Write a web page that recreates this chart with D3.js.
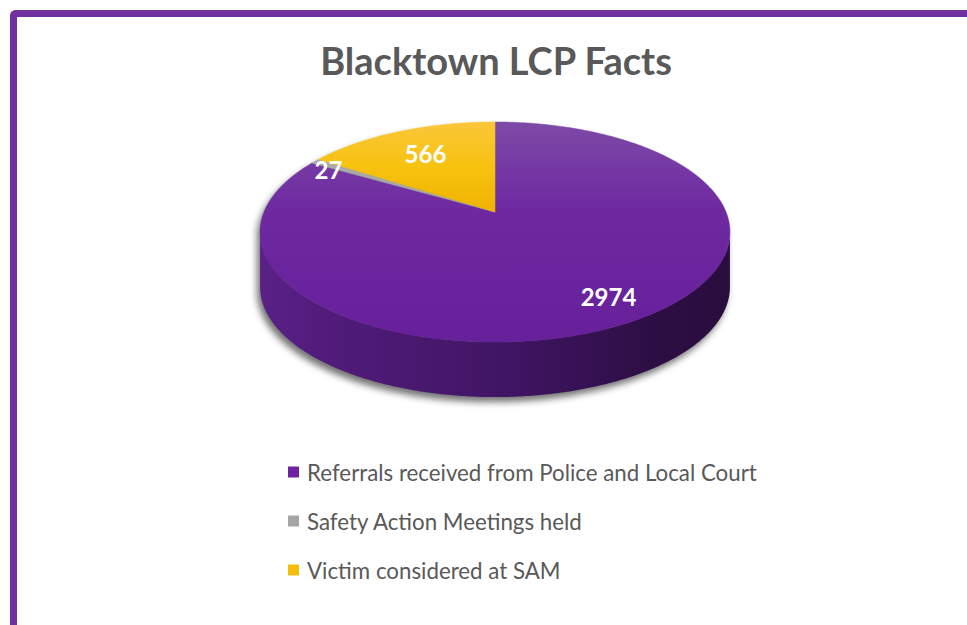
<!DOCTYPE html>
<html>
<head>
<meta charset="utf-8">
<script src="https://cdn.jsdelivr.net/npm/d3@7/dist/d3.min.js"></script>
<style>
  html, body { margin: 0; padding: 0; background: #fff; }
  svg { display: block; }
</style>
</head>
<body>
<svg id="chart" width="967" height="625"></svg>
<script>
// Chart data
const categories = [
  "Referrals received from Police and Local Court",
  "Safety Action Meetings held",
  "Victim considered at SAM"
];
const values = [2974, 27, 566];
const colors = ["#6c25a0", "#a5a5a5", "#f5bd0c"];
const titleText = "Blacktown LCP Facts";

const W = 967, H = 625;
const svg = d3.select("#chart");
const defs = svg.append("defs");

// Frame: purple rule along top and left edges
svg.append("rect")
  .attr("x", 13.5).attr("y", 13.5)
  .attr("width", W + 20).attr("height", H + 20)
  .attr("fill", "#fff")
  .attr("stroke", "#7030a0").attr("stroke-width", 7)
  .attr("rx", 2);

// Title
svg.append("text")
  .attr("x", 496).attr("y", 75)
  .attr("text-anchor", "middle")
  .attr("font-family", "Lato, 'Open Sans', sans-serif")
  .attr("font-weight", 700)
  .attr("font-size", 38)
  .attr("fill", "#595959")
  .text(titleText);

// 3D pie geometry (perspective projection of a tilted disc)
const cx = 495, cy = 212;     // apex of the slices
const Sx = 231, Sy = 106.4;   // horizontal / depth scale
const k = 0.182;              // perspective strength
const depth = 55;             // thickness of the disc

function proj(theta, r = 1, dy = 0) {
  const X = r * Math.sin(theta), Z = -r * Math.cos(theta);
  const w = 1 - k * Z;
  return [cx + Sx * X / w, cy + Sy * Z / w + dy];
}
function rim(a0, a1, dy = 0, n) {
  const steps = n || Math.max(4, Math.ceil(Math.abs(a1 - a0) / 0.01));
  const pts = [];
  for (let i = 0; i <= steps; i++) pts.push(proj(a0 + (a1 - a0) * i / steps, 1, dy));
  return pts;
}

const pie = d3.pie().sort(null).value(d => d)(values);
const line = d3.line();

// Silhouette angles where the side wall turns away from view
const silL = 2 * Math.PI - Math.acos(-k);
const silR = Math.acos(-k);

// Gradients
const gSide = defs.append("linearGradient").attr("id", "gSide")
  .attr("gradientUnits", "userSpaceOnUse")
  .attr("x1", cx - Sx * 1.02).attr("x2", cx + Sx * 1.02).attr("y1", 0).attr("y2", 0);
gSide.append("stop").attr("offset", 0).attr("stop-color", "#5a2187");
gSide.append("stop").attr("offset", 0.12).attr("stop-color", "#521c7c");
gSide.append("stop").attr("offset", 0.55).attr("stop-color", "#3f1462");
gSide.append("stop").attr("offset", 0.85).attr("stop-color", "#2c0e42");
gSide.append("stop").attr("offset", 1).attr("stop-color", "#2a0d3f");

const gTopP = defs.append("linearGradient").attr("id", "gTop0")
  .attr("gradientUnits", "userSpaceOnUse")
  .attr("x1", 0).attr("x2", 0).attr("y1", 122).attr("y2", 342);
gTopP.append("stop").attr("offset", 0).attr("stop-color", "#7d4aa6");
gTopP.append("stop").attr("offset", 0.4).attr("stop-color", "#6e29a1");
gTopP.append("stop").attr("offset", 1).attr("stop-color", "#66209a");

const gTopG = defs.append("linearGradient").attr("id", "gTop1")
  .attr("gradientUnits", "userSpaceOnUse")
  .attr("x1", 0).attr("x2", 0).attr("y1", 122).attr("y2", 212);
gTopG.append("stop").attr("offset", 0).attr("stop-color", "#b0b0b0");
gTopG.append("stop").attr("offset", 1).attr("stop-color", "#a3a3a3");

const gTopY = defs.append("linearGradient").attr("id", "gTop2")
  .attr("gradientUnits", "userSpaceOnUse")
  .attr("x1", 0).attr("x2", 0).attr("y1", 122).attr("y2", 212);
gTopY.append("stop").attr("offset", 0).attr("stop-color", "#fac73a");
gTopY.append("stop").attr("offset", 0.5).attr("stop-color", "#f7c20f");
gTopY.append("stop").attr("offset", 1).attr("stop-color", "#eeb300");

const blur = defs.append("filter").attr("id", "shadow")
  .attr("x", "-20%").attr("y", "-20%").attr("width", "140%").attr("height", "140%");
blur.append("feGaussianBlur").attr("stdDeviation", 3.5);

// Drop shadow under the disc
const shadowPts = rim(silR, silL, depth).concat(rim(silL, silR + 2 * Math.PI, 0));
svg.append("path")
  .attr("d", line(shadowPts) + "Z")
  .attr("transform", "translate(-3,5)")
  .attr("fill", "#000").attr("opacity", 0.55)
  .attr("filter", "url(#shadow)");

// Side wall of each slice that faces the viewer
pie.forEach((s, i) => {
  const a0 = Math.max(s.startAngle, silR), a1 = Math.min(s.endAngle, silL);
  if (a1 <= a0) return;
  const pts = rim(a0, a1, 0).concat(rim(a1, a0, depth));
  svg.append("path")
    .attr("d", line(pts) + "Z")
    .attr("fill", i === 0 ? "url(#gSide)" : d3.color(colors[i]).darker(1.2))
    .attr("stroke", "none");
});

// Top faces
pie.forEach((s, i) => {
  const pts = [[cx, cy]].concat(rim(s.startAngle, s.endAngle, 0)).concat([[cx, cy]]);
  svg.append("path")
    .attr("d", line(pts) + "Z")
    .attr("fill", `url(#gTop${i})`)
    .attr("stroke", `url(#gTop${i})`).attr("stroke-width", 0.5);
});

// Value labels
const labelRadius = [0.8, 0.92, 0.7];
pie.forEach((s, i) => {
  const mid = (s.startAngle + s.endAngle) / 2;
  const [lx, ly] = proj(mid, labelRadius[i]);
  svg.append("text")
    .attr("x", lx + (i === 0 ? 8 : 0)).attr("y", ly + (i === 1 ? 5 : 0))
    .attr("text-anchor", "middle")
    .attr("dominant-baseline", "central")
    .attr("font-family", "Lato, 'Open Sans', sans-serif")
    .attr("font-weight", 700)
    .attr("font-size", 24)
    .attr("fill", "#ffffff")
    .text(d3.format("d")(s.data));
});

// Legend
const legend = svg.append("g").attr("transform", "translate(288,472)");
categories.forEach((c, i) => {
  const row = legend.append("g").attr("transform", `translate(0,${i * 49})`);
  row.append("rect")
    .attr("x", 0).attr("y", -5.5).attr("width", 11).attr("height", 11)
    .attr("fill", colors[i]);
  row.append("text")
    .attr("x", 19).attr("y", 0)
    .attr("dominant-baseline", "central")
    .attr("font-family", "Lato, 'Open Sans', sans-serif")
    .attr("font-size", 22.3)
    .attr("fill", "#595959")
    .text(c);
});
</script>
</body>
</html>
